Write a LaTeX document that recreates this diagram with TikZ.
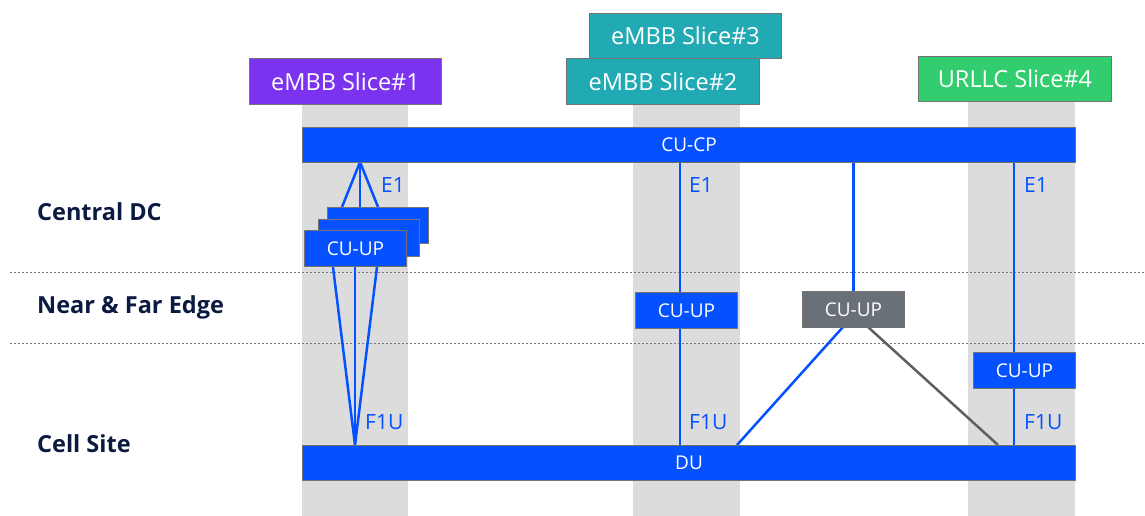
\documentclass[tikz,border=0pt]{standalone}
\usepackage{fontspec}
\setmainfont{Open Sans}
\definecolor{nblue}{RGB}{5,80,255}
\definecolor{colgray}{RGB}{220,220,220}
\definecolor{boxborder}{RGB}{115,115,115}
\definecolor{navy}{RGB}{10,26,64}
\definecolor{purp}{RGB}{124,51,240}
\definecolor{teal}{RGB}{34,170,180}
\definecolor{grn}{RGB}{50,205,110}
\definecolor{gbox}{RGB}{105,112,120}
\definecolor{gline}{RGB}{95,95,95}
\definecolor{dotc}{RGB}{120,120,120}
\pgfdeclarelayer{cols}
\pgfdeclarelayer{wires}
\pgfsetlayers{cols,wires,main}
\begin{document}
\begin{tikzpicture}[x=1pt,y=-1pt,
  box/.style={draw=boxborder, line width=1pt, inner sep=0pt, text=white, anchor=north west, font=\fontsize{19}{22}\selectfont},
  bluebox/.style={box, fill=nblue},
  slicebox/.style={box, font=\fontsize{23.5}{26}\selectfont},
  lane/.style={font=\bfseries\fontsize{23.5}{27}\selectfont, text=navy, anchor=west, inner sep=0pt},
  ifl/.style={font=\fontsize{21}{24}\selectfont, text=nblue, anchor=west, inner sep=0pt},
  bl/.style={nblue, line width=2.5pt},
  gl/.style={gline, line width=2.5pt},
  sep/.style={dotc, line width=1pt, dash pattern=on 2pt off 2pt}]
\useasboundingbox (0,0) rectangle (1145,516);
\begin{pgfonlayer}{cols}
\fill[colgray] (302,65) rectangle (408,516);
\fill[colgray] (633,100) rectangle (740,516);
\fill[colgray] (968,95) rectangle (1075,516);
\coordinate (sepA1) at (10,272); \coordinate (sepA2) at (1145,272);
\coordinate (sepB1) at (10,343); \coordinate (sepB2) at (1145,343);
\draw[sep] (sepA1) -- (sepA2);
\draw[sep] (sepB1) -- (sepB2);
\end{pgfonlayer}
% slice boxes
\node[slicebox, fill=purp, minimum width=192, minimum height=46] (s1) at (249,58) {eMBB Slice\#1};
\node[slicebox, fill=teal, minimum width=192, minimum height=45] (s3) at (589,13) {eMBB Slice\#3};
\node[slicebox, fill=teal, minimum width=193, minimum height=46] (s2) at (566,58) {eMBB Slice\#2};
\node[slicebox, fill=grn, minimum width=193, minimum height=45] (s4) at (918,56) {URLLC Slice\#4};
% lane labels
\node[lane] (lc) at (37,212) {Central DC};
\node[lane] (ln) at (37,307) {Near \& Far Edge};
\node[lane] (ls) at (37,444) {Cell Site};
% bars
\node[bluebox, minimum width=773, minimum height=35] (cucp) at (302,127) {CU-CP};
\node[bluebox, minimum width=773, minimum height=35] (du) at (302,445) {DU};
% left CU-UP stack
\node[bluebox, minimum width=101, minimum height=36] (upc) at (327,207) {};
\node[bluebox, minimum width=101, minimum height=37] (upb) at (318,219) {};
\node[bluebox, minimum width=102, minimum height=36] (upa) at (304,230) {CU-UP};
% other CU-UPs
\node[bluebox, minimum width=102, minimum height=36] (up2) at (635,292) {CU-UP};
\node[box, fill=gbox, minimum width=102, minimum height=36] (upg) at (802,291) {CU-UP};
\node[bluebox, minimum width=102, minimum height=36] (up4) at (973,352) {CU-UP};
\begin{pgfonlayer}{wires}
\coordinate (e1a) at (360,162);
\coordinate (f1a) at (355,445);
\draw[bl] (e1a) -- ([xshift=15pt]upc.north west);
\draw[bl] (e1a) -- (upc.north west -| e1a);
\draw[bl] (e1a) -- ([xshift=51pt]upc.north west);
\draw[bl] (f1a) -- ([xshift=29pt]upa.south west);
\draw[bl] (f1a) -- (upa.south west -| f1a);
\draw[bl] (f1a) -- ([xshift=73pt]upa.south west);
\coordinate (x2) at (680,0);
\coordinate (x4) at (1014,0);
\draw[bl] (cucp.south -| x2) -- (up2.north -| x2);
\draw[bl] (up2.south -| x2) -- (du.north -| x2);
\coordinate (g1) at (843,327);
\coordinate (g2) at (868,327);
\coordinate (d1) at (737,445);
\coordinate (d2) at (998,445);
\draw[bl] (cucp.south -| upg.north) -- (upg.north);
\draw[bl] (g1) -- (d1);
\draw[gl] (g2) -- (d2);
\draw[bl] (cucp.south -| x4) -- (up4.north -| x4);
\draw[bl] (up4.south -| x4) -- (du.north -| x4);
\end{pgfonlayer}
% interface labels
\node[ifl] (e1l1) at (381,185) {E1};
\node[ifl] (e1l2) at (689,185) {E1};
\node[ifl] (e1l4) at (1024,185) {E1};
\node[ifl] (f1l1) at (365,422) {F1U};
\node[ifl] (f1l2) at (689,422) {F1U};
\node[ifl] (f1l4) at (1024,422) {F1U};
\end{tikzpicture}
\end{document}
